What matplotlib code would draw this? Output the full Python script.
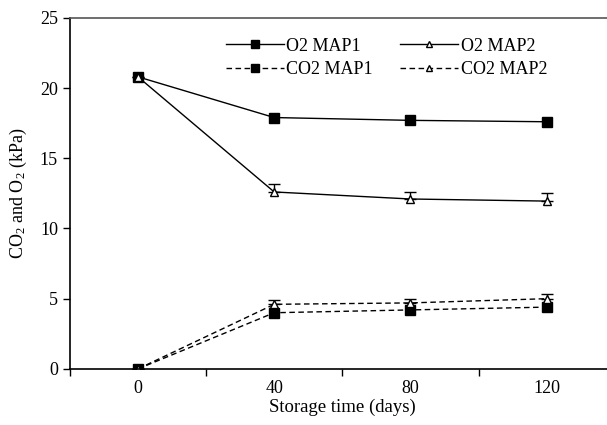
import matplotlib
matplotlib.use("Agg")
import matplotlib.pyplot as plt
from matplotlib.lines import Line2D
import numpy as np

plt.rcParams.update({
    "font.family": "Liberation Serif",
    "font.size": 13,
    "mathtext.fontset": "custom",
    "mathtext.rm": "Liberation Serif",
    "mathtext.it": "Liberation Serif:italic",
})

# storage time categories (days)
days = ["0", "40", "80", "120"]

o2_map1 = [20.8, 17.9, 17.7, 17.6]
o2_map2 = [20.8, 12.6, 12.1, 11.95]
o2_map2_err = [0.0, 0.6, 0.5, 0.6]
co2_map1 = [0.0, 4.0, 4.2, 4.4]
co2_map2 = [0.0, 4.6, 4.7, 5.0]
co2_map2_err = [0.0, 0.3, 0.25, 0.35]

x = np.arange(len(days))

fig = plt.figure(figsize=(6.07, 4.25), dpi=100)
ax = fig.add_axes([0.115, 0.132, 0.898, 0.826])

dash = (0, (4, 2.5))
sq = dict(marker="s", ms=6.5, mfc="black", mec="black")
tri = dict(marker="^", ms=6, mfc="white", mec="black", mew=1)

ax.plot(x, o2_map1, color="black", lw=1, **sq)
ax.errorbar(x, o2_map2, yerr=[np.zeros(4), o2_map2_err], color="black",
            lw=1, capsize=4, elinewidth=1, **tri)
ax.plot(x, co2_map1, color="black", lw=1, ls=dash, **sq)
ax.errorbar(x, co2_map2, yerr=[np.zeros(4), co2_map2_err], color="black",
            lw=1, ls=dash, capsize=4, elinewidth=1, **tri)

ax.set_xlim(-0.5, 3.5)
ax.set_ylim(0, 25)
ax.set_yticks([0, 5, 10, 15, 20, 25])
ax.set_xticks(x)
ax.set_xticklabels(days)
ax.set_xticks([-0.5, 0.5, 1.5, 2.5, 3.5], minor=True)
ax.tick_params(axis="x", which="major", length=0, pad=8, labelsize=13)
ax.tick_params(axis="x", which="minor", length=5, direction="out", width=1)
ax.tick_params(axis="y", length=5, direction="out", width=1, labelsize=13)

ax.set_xlabel("Storage time (days)", fontsize=13.5, labelpad=1)
ax.set_ylabel("CO$_2$ and O$_2$ (kPa)", fontsize=13, labelpad=8)

for s in ["left", "bottom"]:
    ax.spines[s].set_linewidth(1.2)
ax.spines["top"].set_color("#555555")
ax.spines["top"].set_linewidth(1.2)
ax.spines["right"].set_visible(False)

# legend: row 1 O2, row 2 CO2 (ncol fills column-wise)
lsq = dict(sq, ms=5.5)
ltri = dict(tri, ms=5)
h_o2_1 = Line2D([], [], color="black", lw=1, **lsq)
h_co2_1 = Line2D([], [], color="black", lw=1, ls=dash, **lsq)
h_o2_2 = Line2D([], [], color="black", lw=1, **ltri)
h_co2_2 = Line2D([], [], color="black", lw=1, ls=dash, **ltri)
ax.legend([h_o2_1, h_co2_1, h_o2_2, h_co2_2],
          ["O2 MAP1", "CO2 MAP1", "O2 MAP2", "CO2 MAP2"],
          ncol=2, frameon=False, loc="upper left",
          bbox_to_anchor=(0.26, 0.985), handlelength=3.2, handletextpad=0.15,
          columnspacing=1.5, labelspacing=0.38, fontsize=13, borderpad=0.3)

fig.savefig("out.png", dpi=100)
